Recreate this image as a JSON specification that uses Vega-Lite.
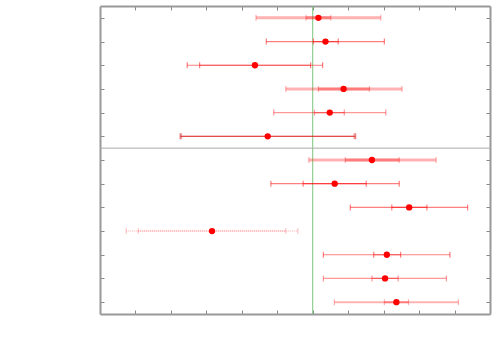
{
  "$schema": "https://vega.github.io/schema/vega-lite/v6.json",
  "autosize": {"type": "none"},
  "width": 390,
  "height": 308,
  "padding": {"left": 100, "top": 6, "right": 10, "bottom": 36},
  "background": "white",
  "config": {
    "view": {"stroke": null},
    "axis": {"labels": false, "title": null, "grid": false, "domainColor": "#999999", "domainWidth": 2, "tickColor": "#888888", "tickSize": -4, "tickWidth": 1}
  },
  "datasets": {
    "rows": [
      {"r": 1, "lo2": 4.40, "lo1": 5.81, "mid": 6.16, "hi1": 6.51, "hi2": 7.92, "g": "thick"},
      {"r": 2, "lo2": 4.69, "lo1": 6.02, "mid": 6.36, "hi1": 6.72, "hi2": 8.02, "g": "thin"},
      {"r": 3, "lo2": 2.46, "lo1": 2.81, "mid": 4.37, "hi1": 5.94, "hi2": 6.28, "g": "thin"},
      {"r": 4, "lo2": 5.24, "lo1": 6.16, "mid": 6.87, "hi1": 7.60, "hi2": 8.52, "g": "thick"},
      {"r": 5, "lo2": 4.90, "lo1": 6.05, "mid": 6.48, "hi1": 6.89, "hi2": 8.06, "g": "light"},
      {"r": 6, "lo2": 2.26, "lo1": 2.29, "mid": 4.73, "hi1": 7.17, "hi2": 7.21, "g": "dark"},
      {"r": 7, "lo2": 5.89, "lo1": 6.92, "mid": 7.67, "hi1": 8.44, "hi2": 9.48, "g": "thick"},
      {"r": 8, "lo2": 4.82, "lo1": 5.73, "mid": 6.62, "hi1": 7.51, "hi2": 8.44, "g": "thin"},
      {"r": 9, "lo2": 7.06, "lo1": 8.23, "mid": 8.72, "hi1": 9.22, "hi2": 10.37, "g": "thin"},
      {"r": 10, "lo2": 0.74, "lo1": 1.08, "mid": 3.16, "hi1": 5.24, "hi2": 5.58, "g": "dotted"},
      {"r": 11, "lo2": 6.30, "lo1": 7.72, "mid": 8.09, "hi1": 8.48, "hi2": 9.87, "g": "thin"},
      {"r": 12, "lo2": 6.30, "lo1": 7.67, "mid": 8.04, "hi1": 8.41, "hi2": 9.77, "g": "light"},
      {"r": 13, "lo2": 6.61, "lo1": 8.02, "mid": 8.36, "hi1": 8.70, "hi2": 10.11, "g": "thick2"}
    ]
  },
  "resolve": {"axis": {"x": "independent", "y": "independent"}},
  "layer": [
    {
      "data": {"values": [{"v": 6}]},
      "mark": {"type": "rule", "color": "#7cc47c", "strokeWidth": 1},
      "encoding": {
        "x": {"field": "v", "type": "quantitative", "scale": {"domain": [0, 11], "nice": false, "zero": false}, "axis": null}
      }
    },
    {
      "data": {"values": [{"v": 6.5}]},
      "mark": {"type": "rule", "color": "#aaaaaa", "strokeWidth": 1},
      "encoding": {
        "y": {"field": "v", "type": "quantitative", "scale": {"domain": [0.5, 13.5], "nice": false, "zero": false, "reverse": true}, "axis": null}
      }
    },
    {
      "data": {"name": "rows"},
      "mark": {"type": "rule"},
      "encoding": {
        "x": {"field": "lo2", "type": "quantitative", "scale": {"domain": [0, 11], "nice": false, "zero": false}, "axis": {"orient": "bottom", "values": [1,2,3,4,5,6,7,8,9,10]}},
        "x2": {"field": "hi2"},
        "y": {"field": "r", "type": "quantitative", "scale": {"domain": [0.5, 13.5], "nice": false, "zero": false, "reverse": true}, "axis": {"orient": "left", "values": [1,2,3,4,5,6,7,8,9,10,11,12,13]}},
        "color": {"field": "g", "type": "nominal", "legend": null, "scale": {"domain": ["thick", "thick2", "thin", "light", "dark", "dotted"], "range": ["#ff0000", "#ff0000", "#ff0000", "#ff0000", "#d82020", "#ff0000"]}},
        "opacity": {"field": "g", "type": "nominal", "legend": null, "scale": {"type": "ordinal", "domain": ["thick", "thick2", "thin", "light", "dark", "dotted"], "range": [0.3, 0.3, 0.5, 0.4, 0.55, 0.22]}},
        "strokeWidth": {"field": "g", "type": "nominal", "legend": null, "scale": {"type": "ordinal", "domain": ["thick", "thick2", "thin", "light", "dark", "dotted"], "range": [3, 2, 1.2, 1.2, 1.2, 1.5]}},
        "strokeDash": {"field": "g", "type": "nominal", "legend": null, "scale": {"domain": ["thick", "thick2", "thin", "light", "dark", "dotted"], "range": [[1, 0], [1, 0], [1, 0], [1, 0], [1, 0], [1, 1]]}}
      }
    },
    {
      "data": {"name": "rows"},
      "mark": {"type": "rule"},
      "encoding": {
        "x": {"field": "lo1", "type": "quantitative", "scale": {"domain": [0, 11], "nice": false, "zero": false}, "axis": {"orient": "top", "values": [1,2,3,4,5,6,7,8,9,10]}},
        "x2": {"field": "hi1"},
        "y": {"field": "r", "type": "quantitative", "scale": {"domain": [0.5, 13.5], "nice": false, "zero": false, "reverse": true}, "axis": {"orient": "right", "values": [1,2,3,4,5,6,7,8,9,10,11,12,13]}},
        "color": {"field": "g", "type": "nominal", "legend": null, "scale": {"domain": ["thick", "thick2", "thin", "light", "dark", "dotted"], "range": ["#ff0000", "#ff0000", "#ff0000", "#ff0000", "#d82020", "#ff0000"]}},
        "opacity": {"field": "g", "type": "nominal", "legend": null, "scale": {"type": "ordinal", "domain": ["thick", "thick2", "thin", "light", "dark", "dotted"], "range": [0.3, 0.3, 0.5, 0.4, 0.55, 0.22]}},
        "strokeWidth": {"field": "g", "type": "nominal", "legend": null, "scale": {"type": "ordinal", "domain": ["thick", "thick2", "thin", "light", "dark", "dotted"], "range": [3, 2, 1.2, 1.2, 1.2, 1.5]}},
        "strokeDash": {"field": "g", "type": "nominal", "legend": null, "scale": {"domain": ["thick", "thick2", "thin", "light", "dark", "dotted"], "range": [[1, 0], [1, 0], [1, 0], [1, 0], [1, 0], [1, 1]]}}
      }
    },
    {
      "data": {"name": "rows"},
      "transform": [{"fold": ["lo2", "lo1", "hi1", "hi2"], "as": ["k", "val"]}],
      "mark": {"type": "point", "shape": "M0,-1L0,1", "filled": false, "size": 36, "strokeWidth": 1.2},
      "encoding": {
        "x": {"field": "val", "type": "quantitative", "axis": null},
        "y": {"field": "r", "type": "quantitative", "axis": null},
        "color": {"field": "g", "type": "nominal", "legend": null, "scale": {"domain": ["thick", "thick2", "thin", "light", "dark", "dotted"], "range": ["#ff0000", "#ff0000", "#ff0000", "#ff0000", "#d82020", "#ff0000"]}},
        "opacity": {"field": "g", "type": "nominal", "legend": null, "scale": {"type": "ordinal", "domain": ["thick", "thick2", "thin", "light", "dark", "dotted"], "range": [0.3, 0.3, 0.5, 0.4, 0.55, 0.22]}}
      }
    },
    {
      "data": {"name": "rows"},
      "mark": {"type": "point", "shape": "circle", "filled": true, "color": "#ff0000", "opacity": 1, "size": 40},
      "encoding": {
        "x": {"field": "mid", "type": "quantitative", "axis": null},
        "y": {"field": "r", "type": "quantitative", "axis": null}
      }
    }
  ]
}
